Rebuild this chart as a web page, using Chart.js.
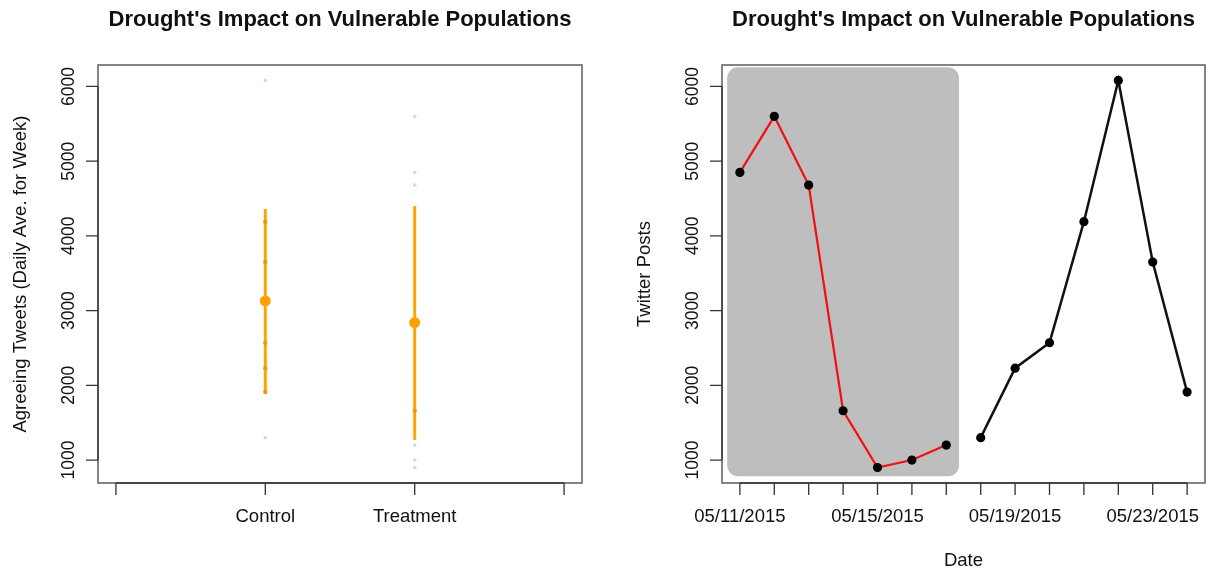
<!DOCTYPE html>
<html>
<head>
<meta charset="utf-8">
<script src="https://cdn.jsdelivr.net/npm/chart.js@4/dist/chart.umd.min.js"></script>
<style>
  html, body { margin: 0; padding: 0; background: #fff; }
  #wrap { position: relative; width: 1212px; height: 571px; overflow: hidden; }
  .panel { position: absolute; top: 0; width: 606px; height: 571px; }
</style>
</head>
<body>
<div id="wrap">
  <div class="panel" style="left:0"><canvas id="groupsChart" width="606" height="571"></canvas></div>
  <div class="panel" style="left:606px"><canvas id="dailyChart" width="606" height="571"></canvas></div>
</div>
<script>
// ---- data ----
const titleText = "Drought's Impact on Vulnerable Populations";
const dates = ["05/11/2015", "05/12/2015", "05/13/2015", "05/14/2015", "05/15/2015", "05/16/2015", "05/17/2015",
               "05/18/2015", "05/19/2015", "05/20/2015", "05/21/2015", "05/22/2015", "05/23/2015", "05/24/2015"];
const week1Posts = [4850, 5600, 4680, 1660, 900, 1000, 1200];   // treatment week
const week2Posts = [1300, 2230, 2570, 4190, 6080, 3650, 1910];  // control week
const groups = ["Control", "Treatment"];
const groupMeans = [3130, 2840];
const ciLower = [1910, 1270];
const ciUpper = [4360, 4400];
const yTicks = [1000, 2000, 3000, 4000, 5000, 6000];
const yRange = [693, 6287];

const groupValues = [week2Posts, week1Posts];

const FONT = "'Liberation Sans', Arial, Helvetica, sans-serif";
const INK = '#111';

// R-style frame: box, outward ticks, rotated y labels, titles
function rFrame(cfg) {
  return {
    id: 'rFrame',
    beforeDatasetsDraw(chart) {
      if (!cfg.shade) return;
      const { ctx, scales: { x, y } } = chart;
      const s = cfg.shade;
      const l = x.getPixelForValue(s.x0), r = x.getPixelForValue(s.x1);
      const t = y.getPixelForValue(s.y1), b = y.getPixelForValue(s.y0);
      ctx.save();
      ctx.fillStyle = '#bebebe';
      ctx.beginPath();
      ctx.roundRect(l, t, r - l, b - t, 11);
      ctx.fill();
      ctx.restore();
    },
    afterDraw(chart) {
      const { ctx, chartArea: a, scales: { x, y } } = chart;
      ctx.save();
      // box
      ctx.strokeStyle = '#666';
      ctx.lineWidth = 1.6;
      ctx.strokeRect(a.left, a.top, a.right - a.left, a.bottom - a.top);

      ctx.strokeStyle = '#333';
      ctx.lineWidth = 1.3;
      // x axis
      const xp = cfg.xTicks.map(v => x.getPixelForValue(v));
      ctx.beginPath();
      ctx.moveTo(xp[0], a.bottom); ctx.lineTo(xp[xp.length - 1], a.bottom);
      xp.forEach(p => { ctx.moveTo(p, a.bottom); ctx.lineTo(p, a.bottom + 12); });
      // y axis
      const yp = yTicks.map(v => y.getPixelForValue(v));
      ctx.moveTo(a.left, yp[0]); ctx.lineTo(a.left, yp[yp.length - 1]);
      yp.forEach(p => { ctx.moveTo(a.left, p); ctx.lineTo(a.left - 12, p); });
      ctx.stroke();

      ctx.fillStyle = INK;
      ctx.textAlign = 'center';
      ctx.textBaseline = 'middle';
      // x labels
      ctx.font = '18.5px ' + FONT;
      cfg.xTicks.forEach((v, i) => {
        const lab = cfg.xLabels[i];
        if (lab) ctx.fillText(lab, xp[i], 517);
      });
      // y labels (rotated, reading upward)
      ctx.font = '17.5px ' + FONT;
      yTicks.forEach((v, i) => {
        ctx.save();
        ctx.translate(a.left - 29, yp[i]);
        ctx.rotate(-Math.PI / 2);
        ctx.fillText(String(v), 0, 0);
        ctx.restore();
      });
      // axis titles
      ctx.font = '18.5px ' + FONT;
      if (cfg.xTitle) ctx.fillText(cfg.xTitle, (a.left + a.right) / 2, 561);
      if (cfg.yTitle) {
        ctx.save();
        ctx.translate(cfg.yTitleX, (a.top + a.bottom) / 2);
        ctx.rotate(-Math.PI / 2);
        ctx.fillText(cfg.yTitle, 0, 0);
        ctx.restore();
      }
      // main title
      ctx.font = 'bold 22px ' + FONT;
      ctx.fillText(titleText, (a.left + a.right) / 2, 20);
      ctx.restore();
    }
  };
}

Chart.defaults.font.family = FONT;

// ---- left: group means with 95% intervals ----
const outside = [], inside = [], ciLines = [];
groupValues.forEach((vals, g) => {
  const xPos = g + 1;
  vals.forEach(v => {
    const pt = { x: xPos, y: v };
    if (v >= ciLower[g] && v <= ciUpper[g]) inside.push(pt); else outside.push(pt);
  });
  ciLines.push({
    type: 'line',
    data: [{ x: xPos, y: ciLower[g] }, { x: xPos, y: ciUpper[g] }],
    borderColor: '#ffa500', borderWidth: 3, pointRadius: 0, showLine: true,
    order: 2, clip: false
  });
});

new Chart(document.getElementById('groupsChart'), {
  type: 'scatter',
  data: {
    datasets: [
      { data: groupMeans.map((m, g) => ({ x: g + 1, y: m })), pointRadius: 5.5, pointBackgroundColor: '#ffa000',
        pointBorderWidth: 0, order: 0, clip: false },
      { data: inside, pointRadius: 2.2, pointBackgroundColor: '#e69a10', pointBorderWidth: 0, order: 1, clip: false },
      ...ciLines,
      { data: outside, pointStyle: 'rect', pointRadius: 2.3, pointBackgroundColor: '#dadada', pointBorderWidth: 0,
        order: 3, clip: false }
    ]
  },
  options: {
    responsive: false, animation: false, events: [],
    layout: { autoPadding: false, padding: { left: 98, right: 24, top: 65, bottom: 88 } },
    plugins: { legend: { display: false }, tooltip: { enabled: false }, title: { display: false } },
    scales: {
      x: { type: 'linear', min: -0.12, max: 3.12, display: false },
      y: { type: 'linear', min: yRange[0], max: yRange[1], display: false }
    }
  },
  plugins: [rFrame({
    xTicks: [0, 1, 2, 3], xLabels: ['', groups[0], groups[1], ''],
    yTitle: 'Agreeing Tweets (Daily Ave. for Week)', yTitleX: 21
  })]
});

// ---- right: daily posts over the two weeks ----
const dayIdx = dates.map((d, i) => i + 1);
new Chart(document.getElementById('dailyChart'), {
  type: 'line',
  data: {
    datasets: [
      { data: week1Posts.map((v, i) => ({ x: dayIdx[i], y: v })), borderColor: '#f01010', borderWidth: 2.2,
        pointRadius: 4.6, pointBackgroundColor: '#000', pointBorderWidth: 0, tension: 0, clip: false },
      { data: week2Posts.map((v, i) => ({ x: dayIdx[i + week1Posts.length], y: v })), borderColor: '#111',
        borderWidth: 2.5, pointRadius: 4.6, pointBackgroundColor: '#000', pointBorderWidth: 0, tension: 0, clip: false }
    ]
  },
  options: {
    responsive: false, animation: false, events: [],
    layout: { autoPadding: false, padding: { left: 116, right: 7, top: 65, bottom: 88 } },
    plugins: { legend: { display: false }, tooltip: { enabled: false }, title: { display: false } },
    scales: {
      x: { type: 'linear', min: 0.48, max: 14.52, display: false },
      y: { type: 'linear', min: yRange[0], max: yRange[1], display: false }
    }
  },
  plugins: [rFrame({
    xTicks: dayIdx, xLabels: dates.map((d, i) => (i % 4 === 0 ? d : '')),
    xTitle: 'Date', yTitle: 'Twitter Posts', yTitleX: 39,
    shade: { x0: 0.63, x1: 7.37, y0: 784, y1: 6256 }
  })]
});
</script>
</body>
</html>
